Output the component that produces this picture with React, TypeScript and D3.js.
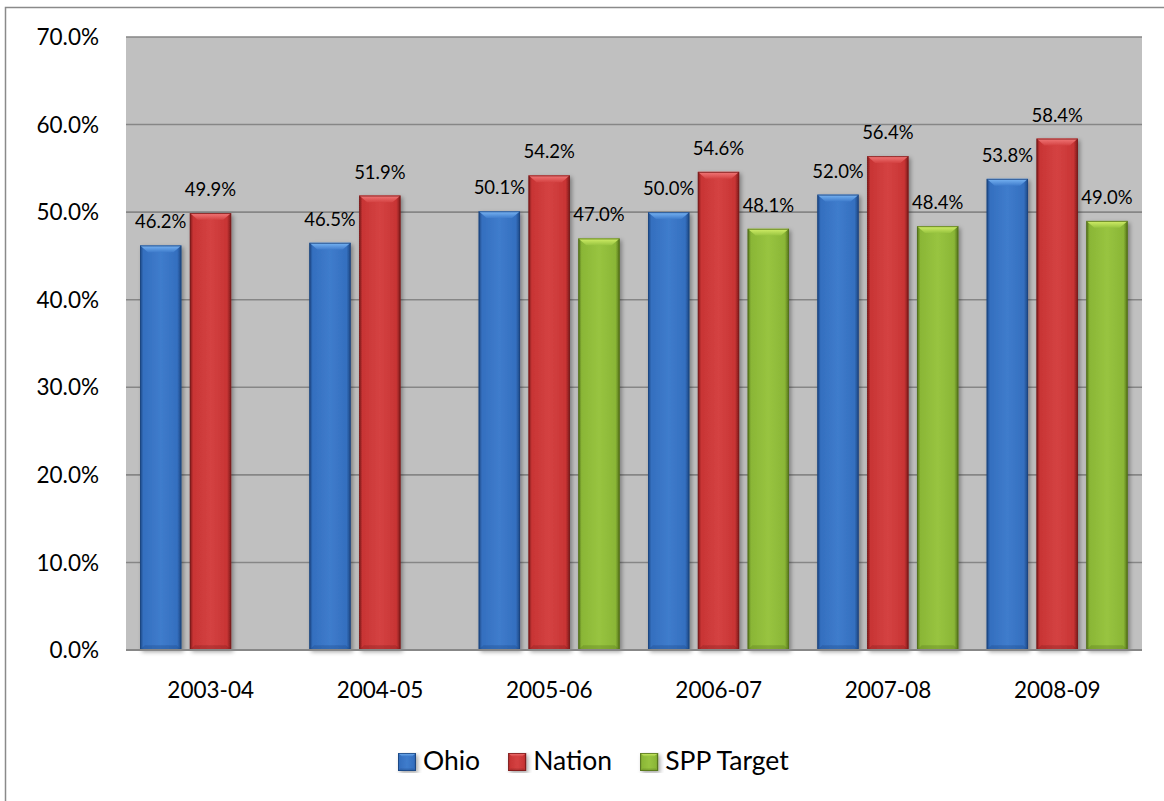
import React, { useEffect, useRef } from "react";
import * as d3 from "d3";

// School years on the x axis
const years = ["2003-04", "2004-05", "2005-06", "2006-07", "2007-08", "2008-09"];
// Percentages per series (null = no value for that year)
const ohio = [46.2, 46.5, 50.1, 50.0, 52.0, 53.8];
const nation = [49.9, 51.9, 54.2, 54.6, 56.4, 58.4];
const sppTarget: (number | null)[] = [null, null, 47.0, 48.1, 48.4, 49.0];
const seriesNames = ["Ohio", "Nation", "SPP Target"];
const yTicks = [0, 10, 20, 30, 40, 50, 60, 70];

const W = 1164;
const H = 801;
const FONT = "Lato, 'Open Sans', sans-serif";

const palette = [
  { id: "ohio", body: "#346fbf", light: "#7ab6f4", mid: "#3f7ccc", dark: "#1c4580" },
  { id: "nation", body: "#c83434", light: "#f27a7a", mid: "#d44242", dark: "#7a1a1a" },
  { id: "spp", body: "#8ab636", light: "#d4f06a", mid: "#98c440", dark: "#52701a" },
];

export default function App() {
  const ref = useRef<SVGSVGElement>(null);

  useEffect(() => {
    const svg = d3.select(ref.current);
    svg.selectAll("*").remove();

    const left = 126, right = 1142, top = 37, bottom = 650;
    const y = d3.scaleLinear().domain([0, 70]).range([bottom, top]);
    const x0 = d3.scaleBand<string>().domain(years).range([left, right]).padding(0);
    const x1 = d3.scaleBand<string>().domain(seriesNames).range([14, 155]).paddingInner(0.17);

    const defs = svg.append("defs");
    palette.forEach((p) => {
      const body = defs.append("linearGradient").attr("id", `body-${p.id}`).attr("x1", 0).attr("x2", 1).attr("y1", 0).attr("y2", 0);
      body.append("stop").attr("offset", "0").attr("stop-color", p.dark);
      body.append("stop").attr("offset", "0.08").attr("stop-color", p.body);
      body.append("stop").attr("offset", "0.5").attr("stop-color", p.mid);
      body.append("stop").attr("offset", "0.9").attr("stop-color", p.body);
      body.append("stop").attr("offset", "1").attr("stop-color", p.dark);
      const topG = defs.append("linearGradient").attr("id", `top-${p.id}`).attr("x1", 0).attr("x2", 0).attr("y1", 0).attr("y2", 1);
      topG.append("stop").attr("offset", "0").attr("stop-color", p.light);
      topG.append("stop").attr("offset", "1").attr("stop-color", p.mid);
    });
    const shadow = defs.append("filter").attr("id", "barShadow").attr("x", "-20%").attr("y", "-5%").attr("width", "150%").attr("height", "115%");
    shadow.append("feDropShadow").attr("dx", 2).attr("dy", 2).attr("stdDeviation", 2).attr("flood-color", "#000").attr("flood-opacity", 0.35);

    // Outer chart frame
    svg.append("rect").attr("x", 5.5).attr("y", 7.5).attr("width", W + 20).attr("height", H + 20)
      .attr("fill", "#fff").attr("stroke", "#8a8a8a").attr("stroke-width", 1.5);

    // Plot area
    svg.append("rect").attr("x", left).attr("y", top).attr("width", right - left).attr("height", bottom - top).attr("fill", "#c0c0c0");

    // Gridlines
    svg.append("g").selectAll("line").data(yTicks.filter((t) => t > 0)).join("line")
      .attr("x1", left).attr("x2", right).attr("y1", (d) => y(d)).attr("y2", (d) => y(d))
      .attr("stroke", "#868686").attr("stroke-width", 1.6);

    // Y tick labels
    svg.append("g").selectAll("text").data(yTicks).join("text")
      .attr("x", 99).attr("y", (d) => y(d)).attr("dy", "0.36em").attr("text-anchor", "end")
      .attr("font-family", FONT).attr("font-size", 22.5).attr("fill", "#000")
      .text((d) => d3.format(".1f")(d) + "%");

    const drawBar = (g: d3.Selection<SVGGElement, unknown, null, undefined>, bx: number, by: number, bw: number, bh: number, p: typeof palette[0], bev: number) => {
      const grp = g.append("g").attr("filter", "url(#barShadow)");
      grp.append("rect").attr("x", bx).attr("y", by).attr("width", bw).attr("height", bh).attr("fill", `url(#body-${p.id})`);
      // top facet
      grp.append("polygon")
        .attr("points", [[bx, by], [bx + bw, by], [bx + bw - bev, by + bev * 0.85], [bx + bev, by + bev * 0.85]].map((q) => q.join(",")).join(" "))
        .attr("fill", `url(#top-${p.id})`);
      // bottom facet
      grp.append("polygon")
        .attr("points", [[bx, by + bh], [bx + bw, by + bh], [bx + bw - bev * 0.6, by + bh - bev * 0.6], [bx + bev * 0.6, by + bh - bev * 0.6]].map((q) => q.join(",")).join(" "))
        .attr("fill", p.dark).attr("opacity", 0.3);
      grp.append("rect").attr("x", bx + 0.5).attr("y", by + 0.5).attr("width", bw - 1).attr("height", bh - 1)
        .attr("fill", "none").attr("stroke", p.dark).attr("stroke-width", 1).attr("opacity", 0.8);
    };

    const seriesData = [ohio, nation, sppTarget];
    const barsG = svg.append("g");
    const labelsG = svg.append("g");
    seriesData.forEach((vals, si) => {
      vals.forEach((v, i) => {
        if (v == null) return;
        const bx = (x0(years[i]) as number) + (x1(seriesNames[si]) as number);
        const bw = x1.bandwidth();
        drawBar(barsG, bx, y(v), bw, bottom - y(v), palette[si], 8);
        labelsG.append("text").attr("x", bx + bw / 2).attr("y", y(v) - 17)
          .attr("text-anchor", "middle").attr("font-family", FONT).attr("font-size", 18.5).attr("fill", "#000")
          .text(d3.format(".1f")(v) + "%");
      });
    });

    // X axis line
    svg.append("line").attr("x1", left).attr("x2", right).attr("y1", bottom).attr("y2", bottom)
      .attr("stroke", "#878787").attr("stroke-width", 2);

    // Category labels
    svg.append("g").selectAll("text").data(years).join("text")
      .attr("x", (d) => (x0(d) as number) + x0.bandwidth() / 2).attr("y", 698)
      .attr("text-anchor", "middle").attr("font-family", FONT).attr("font-size", 22.5).attr("fill", "#000")
      .text((d) => d);

    // Legend
    const legend = svg.append("g");
    let lx = 398;
    seriesNames.forEach((name, si) => {
      const s = 18;
      drawBar(legend, lx, 753, s, s, palette[si], 4);
      const t = legend.append("text").attr("x", lx + s + 7).attr("y", 770)
        .attr("font-family", FONT).attr("font-size", 26.5).attr("fill", "#000").text(name);
      const tw = (t.node() as SVGTextElement).getComputedTextLength();
      lx = lx + s + 7 + tw + 28;
    });
  }, []);

  return (
    <div style={{ position: "absolute", left: 0, top: 0 }}>
      <svg ref={ref} width={W} height={H} style={{ display: "block" }} />
    </div>
  );
}
